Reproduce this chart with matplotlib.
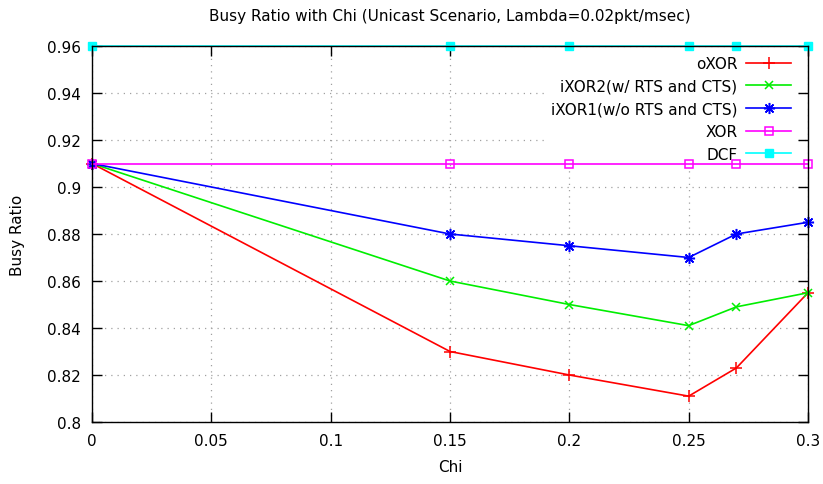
import matplotlib
matplotlib.use('Agg')
import matplotlib.pyplot as plt
from matplotlib.ticker import FuncFormatter, MultipleLocator

# data
chi = [0, 0.15, 0.2, 0.25, 0.27, 0.3]
oxor = [0.91, 0.83, 0.82, 0.811, 0.823, 0.855]
ixor2 = [0.91, 0.86, 0.85, 0.841, 0.849, 0.855]
ixor1 = [0.91, 0.88, 0.875, 0.87, 0.88, 0.885]
xor = [0.91, 0.91, 0.91, 0.91, 0.91, 0.91]
dcf = [0.96, 0.96, 0.96, 0.96, 0.96, 0.96]

labels = ['oXOR', 'iXOR2(w/ RTS and CTS)', 'iXOR1(w/o RTS and CTS)', 'XOR', 'DCF']

fig = plt.figure(figsize=(8.23, 4.85), dpi=100)
ax = fig.add_axes([92 / 823, 1 - 423 / 485, 716 / 823, 376 / 485])

asterisk = (8, 2, 0)
ax.plot(chi, oxor, color='#ff0000', marker='+', ms=8, mew=1.1, lw=1.2, label=labels[0], clip_on=False)
ax.plot(chi, ixor2, color='#00ee00', marker='x', ms=6, mew=1.1, lw=1.2, label=labels[1], clip_on=False)
ax.plot(chi, ixor1, color='#0000ff', marker=asterisk, ms=8, mew=1.1, lw=1.2, label=labels[2], clip_on=False)
ax.plot(chi, xor, color='#ff00ff', marker='s', ms=6, mfc='none', mew=1.1, lw=1.2, label=labels[3], clip_on=False)
ax.plot(chi, dcf, color='#00ffff', marker='s', ms=6, lw=1.2, label=labels[4], clip_on=False)

ax.set_xlim(0, 0.3)
ax.set_ylim(0.8, 0.96)
ax.xaxis.set_major_locator(MultipleLocator(0.05))
ax.yaxis.set_major_locator(MultipleLocator(0.02))
fmt = FuncFormatter(lambda v, p: '%g' % round(v, 4))
ax.xaxis.set_major_formatter(fmt)
ax.yaxis.set_major_formatter(fmt)
ax.tick_params(direction='in', length=7, width=1, top=True, right=True, labelsize=11, pad=8)

ax.grid(True, color='#a0a0a0', linestyle=(0, (1, 4)), lw=0.9)
ax.set_axisbelow(True)
for s in ax.spines.values():
    s.set_linewidth(1)

ax.set_title('Busy Ratio with Chi (Unicast Scenario, Lambda=0.02pkt/msec)', fontsize=11, pad=19)
ax.set_xlabel('Chi', fontsize=11, labelpad=8)
ax.set_ylabel('Busy Ratio', fontsize=11, labelpad=16)

leg = ax.legend(loc='upper right', markerfirst=False, fontsize=11, frameon=True,
                facecolor='white', edgecolor='white', framealpha=1, fancybox=False,
                handlelength=2.9, handletextpad=0.6, labelspacing=0.5,
                borderaxespad=0.6, borderpad=0.3, bbox_to_anchor=(0.995, 1.01))
leg.set_zorder(1.5)

plt.savefig('out.png', dpi=100)
